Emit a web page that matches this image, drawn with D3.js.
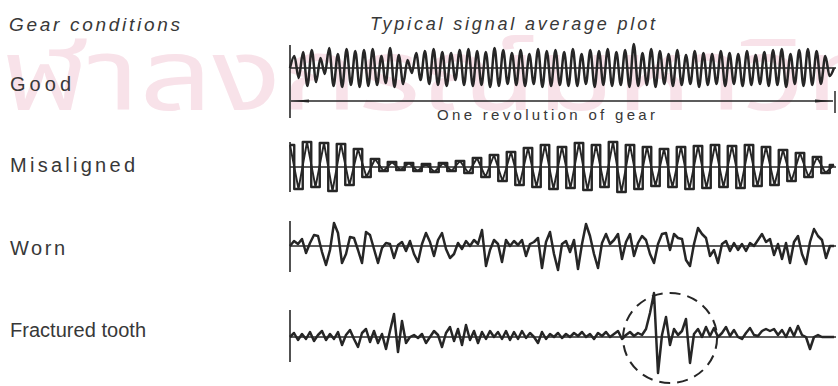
<!DOCTYPE html>
<html>
<head>
<meta charset="utf-8">
<script src="https://cdn.jsdelivr.net/npm/d3@7"></script>
<style>
  html, body { margin: 0; padding: 0; background: #ffffff; }
  svg { display: block; }
</style>
</head>
<body>
<svg id="chart" width="838" height="386"></svg>
<script>
// Gear conditions and their signal-averaged vibration over one revolution
const conditions = ["Good", "Misaligned", "Worn", "Fractured tooth"];

// Good: regular tooth-meshing oscillation, alternating peaks and troughs
const goodSignal = [
  0, 12, -10, 16, -18, 18, -14, 10, -6, 20, -18, 14, -19, 19, -17, 17, -19, 18, -18, 19, -17,
  12, -15, 20, -19, 13, -16, 8, -5, 15, -12, 17, -16, 19, -17, 16, -18, 15, -12, 18, -17,
  19, -18, 17, -17, 16, -19, 20, -18, 18, -16, 15, -17, 18, -18, 14, -16, 19, -19, 17, -18,
  18, -17, 16, -18, 19, -18, 14, -16, 18, -19, 17, -17, 19, -18, 16, -17, 18, -19, 24, -18,
  15, -17, 19, -19, 17, -16, 14, -18, 18, -17, 13, -16, 17, -19, 15, -17, 14, -16, 17, -18,
  15, -16, 14, -18, 17, -17, 13, -16, 16, -18, 18, -17, 19, -19, 14, -16, 18, -18, 19, -17,
  17, -16, 12, -8, 0
];

// Misaligned: amplitude-modulated meshing, one value per half cycle
const misalignedSignal = [
  22, -22, 25, -20, 24, -24, 23, -18, 18, -10, 8, -4, 5, -3, 4, -4, 3, -5, 4, -4,
  6, -6, 9, -10, 12, -14, 15, -18, 19, -20, 22, -22, 20, -21, 24, -23, 22, -20, 25, -25,
  22, -22, 20, -19, 18, -20, 20, -22, 21, -21, 22, -20, 21, -21, 22, -19, 20, -18, 17, -14,
  14, -10, 10, -6, 2
];

// Worn: sharp positive spikes with deeper negative lobes
const wornSignal = [
  0, 5, 2, 7, -7, 3, 11, 10, -6, -19, -4, 23, 13, -17, -8, 9, 8, -4, -17, 14,
  11, -3, -17, -2, 3, 2, -12, 1, 4, -5, 5, -8, -16, 2, 13, 4, -10, 6, 13, -3,
  -12, -8, 3, -3, 5, 0, 6, 2, 16, -20, -4, 6, 2, -16, 6, 0, 5, 1, 6, -10,
  2, 4, 8, -22, 4, 14, -8, -24, 2, 5, -6, 6, -23, 2, 22, 10, -8, -22, 3, 12,
  2, 6, 12, -13, 4, 12, -10, 3, 10, 6, -8, -17, 2, 12, 13, -4, 12, 8, 7, -14,
  -20, 2, 18, 12, 8, -10, -4, -17, 2, 5, -5, 3, -4, 2, -5, 3, 0, 6, 12, 4,
  7, -9, 2, -13, 3, -17, 4, 10, -8, -18, 4, 17, 10, 6, -12, 0, 0
];

// Fractured tooth: low-level noise with a large impulse at the broken tooth
const fracturedSignal = [
  0, 4, -3, 3, -2, 5, -4, 2, 6, -3, 3, -2, 5, -8, 2, 7, -2, -10, 4, 8,
  -5, 6, -6, 3, -12, 6, 23, -15, 16, -6, 0, 2, -1, 3, -6, 0, 6, 2, -10, 4,
  10, -4, 8, -8, 12, -3, 6, -6, 5, -2, 6, 0, 5, -2, 6, -3, 5, -2, 6, -1,
  4, 0, -6, 5, -2, 3, 0, 4, -1, 3, 0, 4, 1, 5, 0, 3, -2, 4, 1, 5,
  0, 3, 6, -2, 2, 5, 1, 4, 2, 8, 24, 44, -36, 2, 20, -8, 8, 2, 6, 18,
  -26, 3, 8, 0, 10, 1, 9, 0, 4, 10, 1, 7, 0, -2, 4, 9, 2, 1, 6, 8,
  6, 8, 2, 7, 0, 9, 1, 11, 2, 0, -12, 0, 2, 0, 0, 0, 0
];

// Shaft angle (degrees) around which the damaged tooth appears
const fractureAngle = 251.5;

const headings = ["Gear conditions", "Typical signal average plot"];
const revolutionLabel = "One revolution of gear";
const watermark = "ฬาลงกรณ์มหาวิทยาลัย";

const ink = "#262626";
const textInk = "#383838";
const sans = "'Liberation Sans', Arial, Helvetica, sans-serif";

const svg = d3.select("#chart");

// faint library stamp behind the figure (wide lettering)
svg.append("text")
  .attr("transform", "translate(2,110) scale(1.28,1)")
  .attr("font-family", "'Noto Sans Thai', 'Noto Sans', sans-serif")
  .attr("font-size", 100)
  .attr("fill", "#f8e2e9")
  .text(watermark);

const x = d3.scaleLinear().domain([0, 360]).range([290, 834]);

// Row layout: baseline of each trace and its label
const rows = [
  { signal: goodSignal, base: 68, label: 91, labelW: 61, axisTop: 45, axisBot: 118, curve: "smooth" },
  { signal: misalignedSignal, base: 167, label: 172, labelW: 125, axisTop: 142, axisBot: 192, curve: "square" },
  { signal: wornSignal, base: 246, label: 255, labelW: 55, axisTop: 221, axisBot: 272, curve: "linear" },
  { signal: fracturedSignal, base: 337, label: 337, labelW: 136, axisTop: 310, axisBot: 362, curve: "linear" }
];

// Headings
svg.append("text")
  .attr("x", 9).attr("y", 31)
  .attr("font-family", sans)
  .attr("font-style", "italic")
  .attr("font-size", 19)
  .attr("fill", textInk)
  .attr("textLength", 171).attr("lengthAdjust", "spacing")
  .text(headings[0]);

svg.append("text")
  .attr("x", 370).attr("y", 30)
  .attr("font-family", sans)
  .attr("font-style", "italic")
  .attr("font-size", 18)
  .attr("fill", textInk)
  .attr("textLength", 285).attr("lengthAdjust", "spacing")
  .text(headings[1]);

rows.forEach((r, k) => {
  const y = d3.scaleLinear().domain([-50, 50]).range([r.base + 50, r.base - 50]);
  const n = r.signal.length;
  const pts = r.signal.map((v, i) => [x(i / (n - 1) * 360), y(v)]);

  const g = svg.append("g");

  // condition label
  g.append("text")
    .attr("x", 10).attr("y", r.label)
    .attr("font-family", sans)
    .attr("font-size", 20)
    .attr("fill", textInk)
    .attr("textLength", r.labelW).attr("lengthAdjust", "spacing")
    .text(conditions[k]);

  // zero line and start-of-revolution marker
  g.append("line")
    .attr("x1", x(0)).attr("x2", 836)
    .attr("y1", y(0)).attr("y2", y(0))
    .attr("stroke", ink).attr("stroke-width", 1.7);
  g.append("line")
    .attr("x1", x(0)).attr("x2", x(0))
    .attr("y1", r.axisTop).attr("y2", r.axisBot)
    .attr("stroke", ink).attr("stroke-width", 1.6);

  if (r.curve === "square") {
    // flat-topped meshing pattern with the crossing strokes between caps
    g.append("path")
      .attr("d", d3.line().curve(d3.curveStep)(pts))
      .attr("fill", "none").attr("stroke", ink)
      .attr("stroke-width", 2.4).attr("stroke-linejoin", "round");
    g.append("path")
      .attr("d", d3.line().curve(d3.curveLinear)(pts))
      .attr("fill", "none").attr("stroke", ink)
      .attr("stroke-width", 1.9).attr("stroke-linejoin", "round");
  } else {
    const curve = r.curve === "smooth" ? d3.curveMonotoneX : d3.curveLinear;
    g.append("path")
      .attr("d", d3.line().curve(curve)(pts))
      .attr("fill", "none").attr("stroke", ink)
      .attr("stroke-width", 2.5).attr("stroke-linejoin", "round");
  }
});

// One-revolution dimension arrow under the first trace
const arrowY = 101;
const defs = svg.append("defs");
defs.append("marker")
  .attr("id", "head")
  .attr("viewBox", "0 0 18 6")
  .attr("refX", 18).attr("refY", 3)
  .attr("markerWidth", 18).attr("markerHeight", 6)
  .attr("markerUnits", "userSpaceOnUse")
  .attr("orient", "auto-start-reverse")
  .append("path")
  .attr("d", "M0,1.4 L18,3 L0,4.6 Z")
  .attr("fill", ink);

svg.append("line")
  .attr("x1", x(0) + 1).attr("x2", x(360) - 1)
  .attr("y1", arrowY).attr("y2", arrowY)
  .attr("stroke", ink).attr("stroke-width", 1.5)
  .attr("marker-start", "url(#head)")
  .attr("marker-end", "url(#head)");
svg.append("line")
  .attr("x1", x(360) + 1).attr("x2", x(360) + 1)
  .attr("y1", 91).attr("y2", 113)
  .attr("stroke", ink).attr("stroke-width", 1.5);

svg.append("text")
  .attr("x", 437).attr("y", 120)
  .attr("font-family", sans)
  .attr("font-size", 15)
  .attr("fill", textInk)
  .attr("textLength", 218).attr("lengthAdjust", "spacing")
  .text(revolutionLabel);

// Dashed ring marking the broken tooth impulse
svg.append("ellipse")
  .attr("cx", x(fractureAngle)).attr("cy", 338)
  .attr("rx", 47).attr("ry", 45)
  .attr("fill", "none")
  .attr("stroke", ink).attr("stroke-width", 2)
  .attr("stroke-dasharray", "11 7");
</script>
</body>
</html>
